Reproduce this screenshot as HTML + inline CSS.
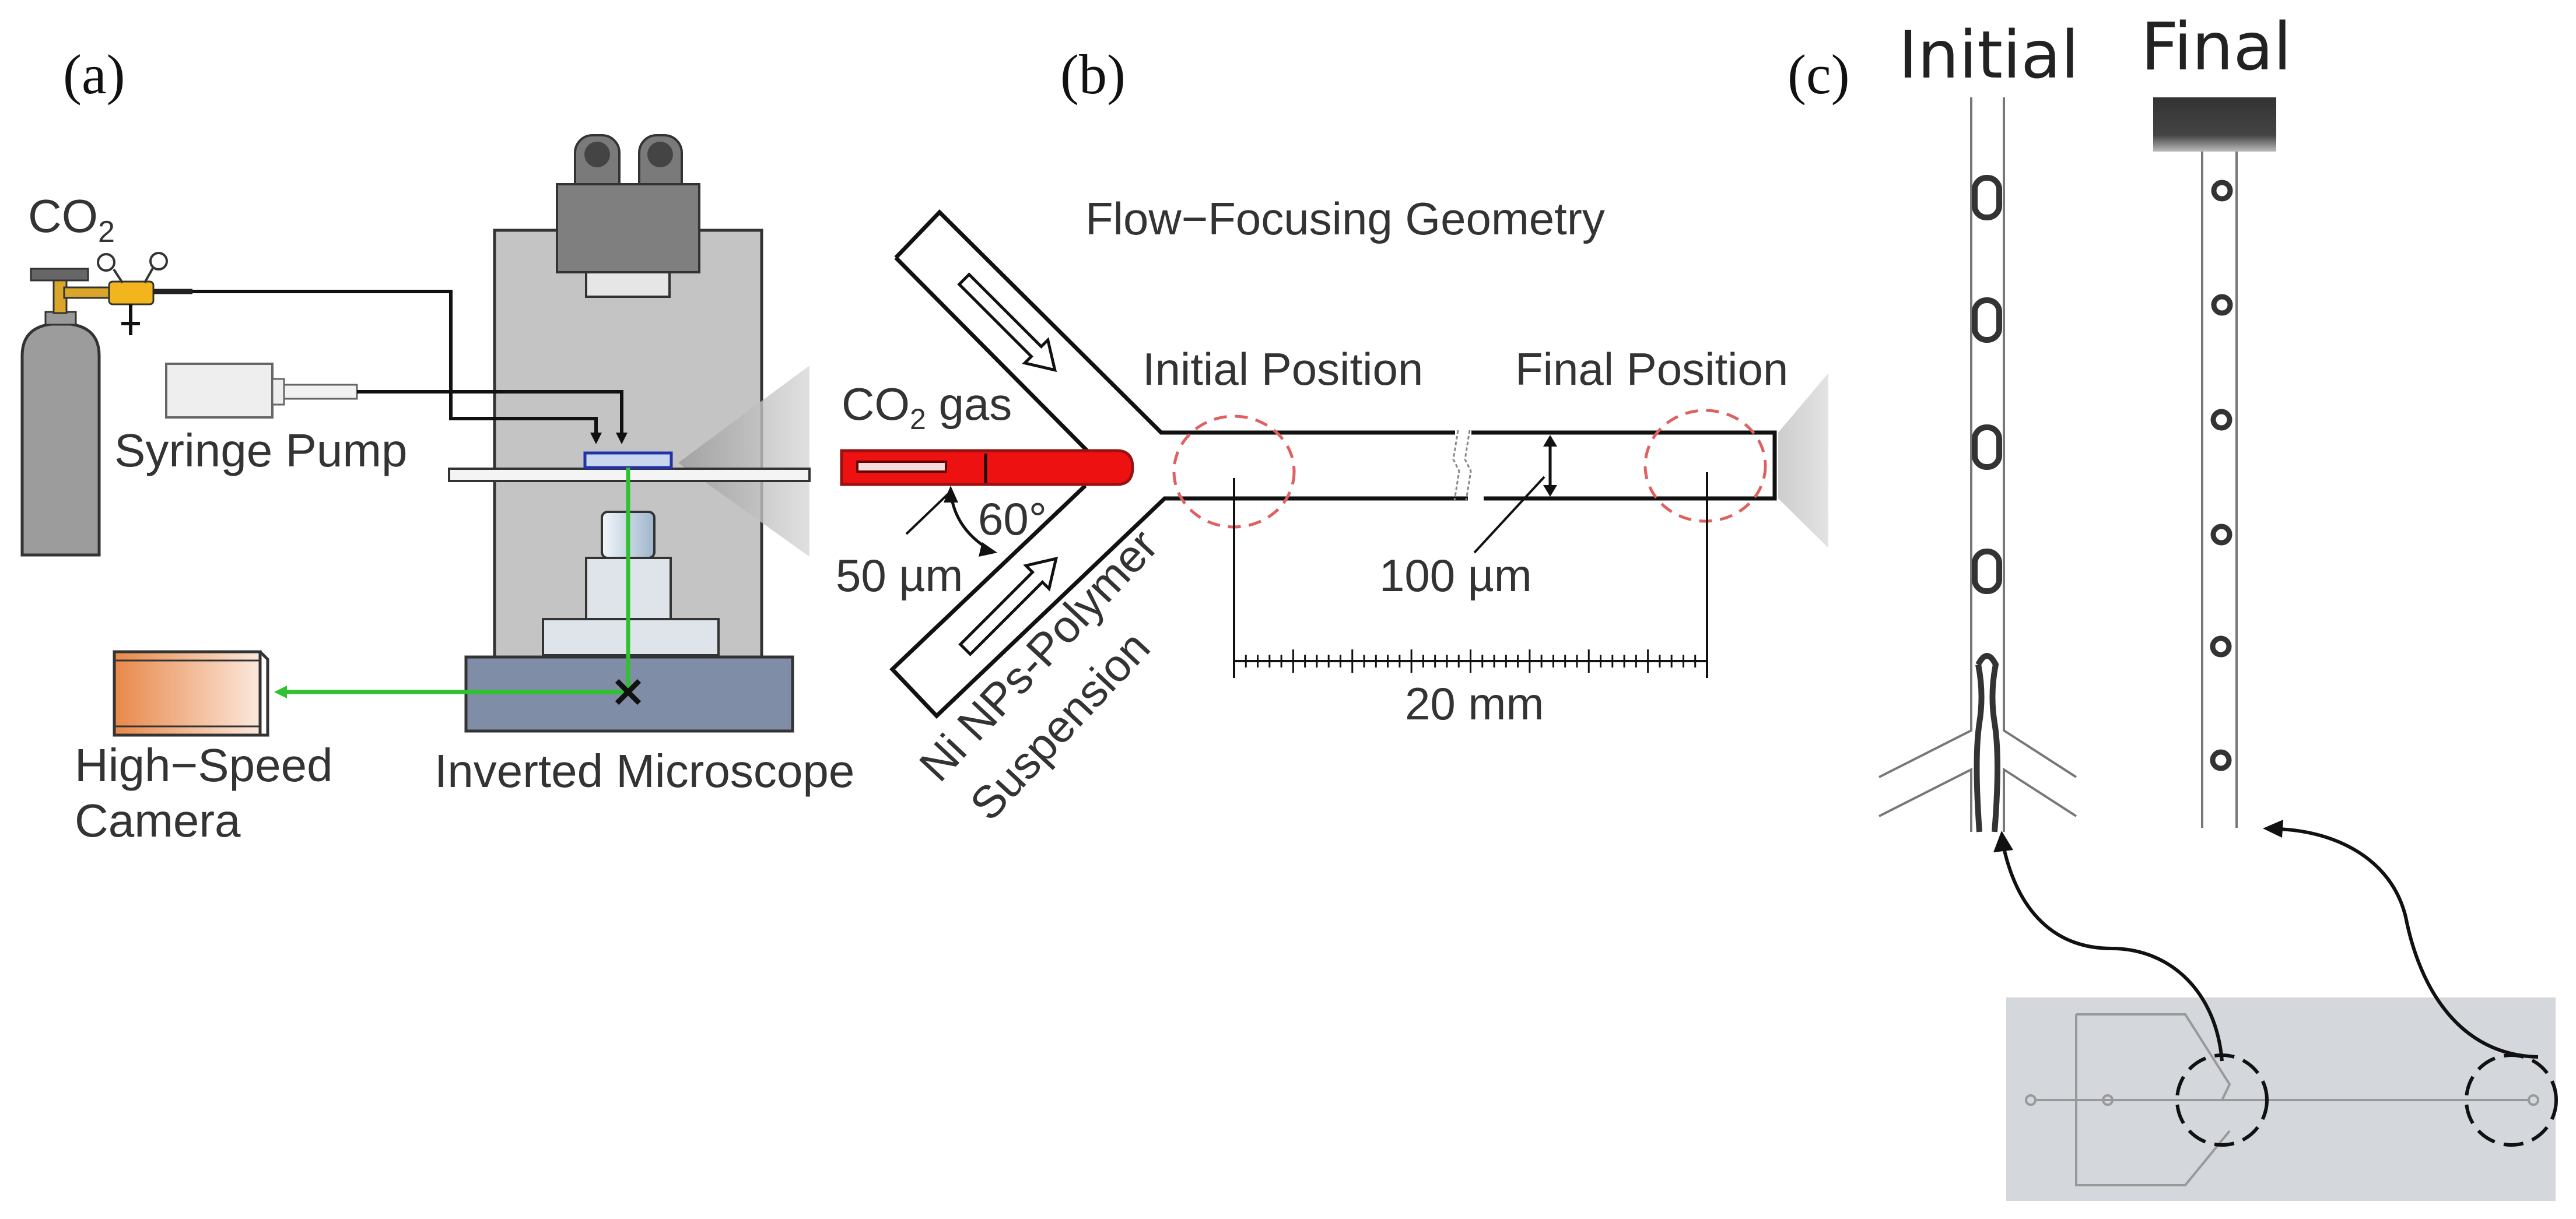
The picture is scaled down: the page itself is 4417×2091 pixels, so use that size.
<!DOCTYPE html>
<html><head><meta charset="utf-8"><style>
html,body{margin:0;padding:0;background:#fff}
svg{display:block}
text{font-family:"Liberation Sans",sans-serif;fill:#333}
.ser{font-family:"Liberation Serif",serif;fill:#111}
.dj{font-family:"DejaVu Sans",sans-serif;fill:#222}
</style></head><body>
<svg width="4417" height="2091" viewBox="0 0 4417 2091" xmlns="http://www.w3.org/2000/svg">
<defs>
<linearGradient id="cam" x1="0" x2="1"><stop offset="0" stop-color="#e8884a"/><stop offset="1" stop-color="#fbe8dc"/></linearGradient>
<linearGradient id="obj" x1="0" x2="1"><stop offset="0" stop-color="#f2f6fa"/><stop offset="1" stop-color="#9fb6cc"/></linearGradient>
<linearGradient id="tri" x1="0" x2="1"><stop offset="0" stop-color="#9a9a9a"/><stop offset="1" stop-color="#d8d8d8"/></linearGradient>
<linearGradient id="tri2" x1="0" x2="1"><stop offset="0" stop-color="#c8c8c8"/><stop offset="1" stop-color="#e0e0e0"/></linearGradient>
<linearGradient id="blk" x1="0" y1="0" x2="0" y2="1"><stop offset="0" stop-color="#333"/><stop offset="0.7" stop-color="#444"/><stop offset="1" stop-color="#bbb"/></linearGradient>
</defs>

<!-- (a) -->
<text class="ser" x="108" y="160" font-size="96">(a)</text>
<path d="M38,952 V610 Q38,555 104,555 Q170,555 170,610 V952 Z" fill="#9c9c9c" stroke="#333" stroke-width="5"/>
<rect x="78" y="535" width="52" height="22" fill="#999" stroke="#333" stroke-width="3"/>
<rect x="53" y="461" width="98" height="20" fill="#666" stroke="#333" stroke-width="3"/>
<rect x="92" y="481" width="22" height="56" fill="#d9a62a" stroke="#333" stroke-width="3"/>
<rect x="110" y="493" width="80" height="18" fill="#d9a62a" stroke="#333" stroke-width="3"/>
<rect x="187" y="483" width="76" height="39" rx="6" fill="#f2b51e" stroke="#333" stroke-width="3"/>
<circle cx="182" cy="450" r="14" fill="#fff" stroke="#333" stroke-width="4"/>
<circle cx="272" cy="448" r="14" fill="#fff" stroke="#333" stroke-width="4"/>
<path d="M195,462 L210,485 M262,460 L248,485" stroke="#333" stroke-width="4"/>
<path d="M224,522 V575 M208,555 H240" stroke="#111" stroke-width="6"/>
<text x="48" y="398" font-size="80">CO<tspan font-size="52" dy="17">2</tspan></text>
<!-- syringe pump -->
<rect x="285" y="624" width="182" height="92" fill="#eee" stroke="#666" stroke-width="4"/>
<rect x="467" y="650" width="20" height="44" fill="#eee" stroke="#666" stroke-width="3"/>
<rect x="487" y="660" width="125" height="24" fill="#f2f2f2" stroke="#666" stroke-width="3"/>
<text x="196" y="800" font-size="80">Syringe Pump</text>
<!-- microscope -->
<rect x="848" y="395" width="458" height="732" fill="#c4c4c4" stroke="#333" stroke-width="5"/>
<rect x="986" y="232" width="76" height="145" rx="30" fill="#7a7a7a" stroke="#333" stroke-width="4"/>
<rect x="1096" y="232" width="73" height="145" rx="30" fill="#7a7a7a" stroke="#333" stroke-width="4"/>
<circle cx="1024" cy="265" r="22" fill="#444"/><circle cx="1132" cy="265" r="22" fill="#444"/>
<rect x="955" y="316" width="244" height="151" fill="#7f7f7f" stroke="#333" stroke-width="4"/>
<rect x="1005" y="467" width="143" height="42" fill="#e6e6e6" stroke="#333" stroke-width="4"/>
<polygon points="1388,627 1388,955 1163,794" fill="url(#tri)" opacity="0.8"/>
<rect x="770" y="804" width="618" height="21" fill="#f4f4f4" stroke="#333" stroke-width="4"/>
<rect x="1003" y="777" width="148" height="25" fill="#c9d7ee" stroke="#2233aa" stroke-width="5"/>
<rect x="1032" y="878" width="90" height="79" rx="10" fill="url(#obj)" stroke="#333" stroke-width="4"/>
<rect x="1005" y="957" width="145" height="105" fill="#dfe4ea" stroke="#333" stroke-width="4"/>
<rect x="931" y="1062" width="301" height="62" fill="#dfe4ea" stroke="#333" stroke-width="4"/>
<rect x="799" y="1127" width="560" height="127" fill="#7f8ea6" stroke="#333" stroke-width="5"/>
<path d="M1077,802 V1187 H478" stroke="#2fc12f" stroke-width="7" fill="none"/>
<path d="M470,1187 L492,1176 L492,1198 Z" fill="#2fc12f"/>
<path d="M1058,1168 L1096,1206 M1096,1168 L1058,1206" stroke="#111" stroke-width="9"/>
<!-- tubes (on top) -->
<path d="M263,500 H330" stroke="#222" stroke-width="9"/>
<path d="M330,500 H773 V718 H1022 V745" fill="none" stroke="#111" stroke-width="6"/>
<path d="M1012,742 L1022,762 L1032,742 Z" fill="#111"/>
<path d="M612,672 H1066 V745" fill="none" stroke="#111" stroke-width="6"/>
<path d="M1056,742 L1066,762 L1076,742 Z" fill="#111"/>
<!-- camera -->
<rect x="196" y="1118" width="250" height="143" fill="url(#cam)" stroke="#333" stroke-width="5"/>
<path d="M196,1118 L446,1118 L459,1131 L459,1261 L446,1261" fill="none" stroke="#333" stroke-width="5"/>
<path d="M196,1133 H446 M196,1246 H446 M446,1118 V1261" stroke="#333" stroke-width="3"/>
<text x="128" y="1340" font-size="80">High−Speed</text>
<text x="128" y="1435" font-size="80">Camera</text>
<text x="745" y="1350" font-size="80">Inverted Microscope</text>

<!-- (b) -->
<text class="ser" x="1818" y="160" font-size="96">(b)</text>
<text x="1861" y="402" font-size="78">Flow−Focusing Geometry</text>
<g stroke="#111" stroke-width="7" fill="none" stroke-linejoin="miter">
<path d="M1536,442 L1611,364 L1991,742 H2495"/>
<path d="M1536,442 L1866,775"/>
<path d="M2523,742 H3043 V855 H2544"/>
<path d="M2517,855 H1997 L1606,1228 L1530,1148 L1861,833"/>
</g>
<path d="M2500,738 l-8,50 l10,20 l-8,50 M2520,738 l-8,50 l10,20 l-8,50" stroke="#888" stroke-width="3" fill="none" stroke-dasharray="6,4"/>
<!-- red nozzle -->
<path d="M1443,773 H1915 Q1942,773 1942,802 Q1942,831 1915,831 H1443 Z" fill="#ee1111" stroke="#991111" stroke-width="5"/>
<rect x="1470" y="792" width="152" height="17" fill="#f6dede" stroke="#6a0000" stroke-width="4"/>
<path d="M1690,778 V828" stroke="#111" stroke-width="5"/>
<text x="1443" y="720" font-size="78">CO<tspan font-size="50" dy="16">2</tspan><tspan dy="-16"> gas</tspan></text>
<!-- hollow arrows -->
<g transform="translate(1731,557) rotate(45)"><path d="M-110,-12 H65 V-28 L110,0 L65,28 V12 H-110 Z" fill="#fff" stroke="#111" stroke-width="5"/></g>
<g transform="translate(1733,1036) rotate(-45)"><path d="M-110,-12 H65 V-28 L110,0 L65,28 V12 H-110 Z" fill="#fff" stroke="#111" stroke-width="5"/></g>
<!-- angle annotation -->
<path d="M1631,850 Q1640,910 1700,945" stroke="#111" stroke-width="5" fill="none"/>
<path d="M1618,862 L1630,833 L1643,862 Z" fill="#111"/>
<path d="M1684,930 L1710,948 L1678,955 Z" fill="#111"/>
<path d="M1554,916 L1627,846" stroke="#111" stroke-width="4"/>
<text x="1677" y="917" font-size="78">60°</text>
<text x="1433" y="1014" font-size="78">50 µm</text>
<g transform="translate(1611,1345) rotate(-47)"><text x="0" y="0" font-size="78">Ni NPs-Polymer</text></g>
<g transform="translate(1698,1412) rotate(-47)"><text x="0" y="0" font-size="78">Suspension</text></g>
<!-- dashed circles -->
<ellipse cx="2116" cy="809" rx="103" ry="95" fill="none" stroke="#e06060" stroke-width="5" stroke-dasharray="22,14"/>
<ellipse cx="2924" cy="799" rx="103" ry="95" fill="none" stroke="#e06060" stroke-width="5" stroke-dasharray="22,14"/>
<text x="1959" y="660" font-size="78">Initial Position</text>
<text x="2598" y="660" font-size="78">Final Position</text>
<polygon points="3049,742 3135,640 3135,940 3049,855" fill="url(#tri2)" opacity="0.9"/>
<path d="M3043,742 V855" stroke="#111" stroke-width="7"/>
<!-- 100 um -->
<path d="M2658,758 V840" stroke="#111" stroke-width="5"/>
<path d="M2646,766 L2658,746 L2670,766 Z M2646,832 L2658,852 L2670,832 Z" fill="#111"/>
<path d="M2528,948 L2648,818" stroke="#111" stroke-width="4"/>
<text x="2365" y="1014" font-size="78">100 µm</text>
<!-- scale bar -->
<path d="M2116,820 V1163 M2927,810 V1163 M2116,1134 H2927" stroke="#111" stroke-width="4"/>
<g stroke="#111" stroke-width="3" id="ticks"></g>
<text x="2409" y="1234" font-size="78">20 mm</text>

<!-- (c) -->
<text class="ser" x="3065" y="160" font-size="96">(c)</text>
<text class="dj" x="3255" y="133" font-size="112">Initial</text>
<text class="dj" x="3671" y="119" font-size="112">Final</text>
<g stroke="#777" stroke-width="4" fill="none">
<path d="M3380,167 V1253 L3222,1333 M3436,167 V1253 L3560,1333"/>
<path d="M3222,1400 L3380,1320 V1427 M3560,1400 L3436,1320 V1427"/>
</g>
<g stroke="#333" stroke-width="10" fill="none">
<rect x="3386" y="305" width="42" height="68" rx="20"/>
<rect x="3386" y="515" width="42" height="68" rx="20"/>
<rect x="3386" y="733" width="42" height="68" rx="20"/>
<rect x="3386" y="946" width="42" height="68" rx="20"/>
<path d="M3392,1140 Q3407,1110 3422,1140 Q3412,1190 3420,1240 Q3430,1300 3420,1427 M3392,1140 Q3402,1190 3394,1240 Q3385,1300 3394,1427"/>
</g>
<rect x="3692" y="167" width="211" height="93" fill="url(#blk)"/>
<path d="M3776,260 V1420 M3835,260 V1420" stroke="#777" stroke-width="4"/>
<g fill="none" stroke="#333" stroke-width="9">
<circle cx="3810" cy="327" r="14"/><circle cx="3810" cy="523" r="14"/><circle cx="3809" cy="720" r="14"/>
<circle cx="3809" cy="917" r="14"/><circle cx="3808" cy="1109" r="14"/><circle cx="3808" cy="1304" r="14"/>
</g>
<rect x="3440" y="1711" width="942" height="349" fill="#d4d7db"/>
<g stroke="#999" stroke-width="4" fill="none">
<path d="M3490,1887 H4336"/>
<path d="M3560,1740 V2033 H3747 L3823,1940 M3560,1740 H3747 L3823,1860 L3810,1887"/>
<circle cx="3482" cy="1887" r="8"/><circle cx="3614" cy="1887" r="8"/><circle cx="4344" cy="1887" r="8"/>
</g>
<circle cx="3810" cy="1887" r="77" fill="none" stroke="#111" stroke-width="6" stroke-dasharray="34,16"/>
<circle cx="4306" cy="1887" r="77" fill="none" stroke="#111" stroke-width="6" stroke-dasharray="34,16"/>
<path d="M3810,1820 C3800,1700 3720,1627 3621,1627 C3520,1627 3460,1560 3436,1455" stroke="#111" stroke-width="6" fill="none"/>
<path d="M3418,1462 L3432,1425 L3452,1458 Z" fill="#111"/>
<path d="M4352,1813 C4220,1810 4150,1700 4125,1573 C4100,1470 4000,1425 3905,1422" stroke="#111" stroke-width="6" fill="none"/>
<path d="M3880,1421 L3915,1406 L3913,1437 Z" fill="#111"/>
</svg>
<script>
var g=document.getElementById('ticks'),s='';
for(var i=0;i<=40;i++){var x=2116+i*811/40;var h=(i%5==0)?20:11;s+='<line x1="'+x+'" y1="'+(1134-h)+'" x2="'+x+'" y2="'+(1134+h)+'"/>';}
g.innerHTML=s;
</script>
</body></html>
